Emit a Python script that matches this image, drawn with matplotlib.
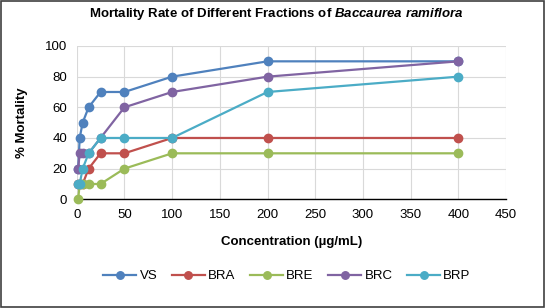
import matplotlib.pyplot as plt

plt.rcParams['font.family'] = ['Liberation Sans', 'DejaVu Sans']
plt.rcParams['mathtext.fontset'] = 'custom'
plt.rcParams['mathtext.it'] = 'Liberation Sans:italic:bold'
plt.rcParams['mathtext.rm'] = 'Liberation Sans:bold'

# concentrations (ug/mL)
conc = [1.5625, 3.125, 6.25, 12.5, 25, 50, 100, 200, 400]

# % mortality per fraction
vs = [20, 40, 50, 60, 70, 70, 80, 90, 90]
bra = [10, 10, 10, 20, 30, 30, 40, 40, 40]
bre = [0, 10, 10, 10, 10, 20, 30, 30, 30]
brc = [20, 30, 30, 30, 40, 60, 70, 80, 90]
brp = [10, 10, 20, 30, 40, 40, 40, 70, 80]

series = [('VS', vs, '#4F81BD'), ('BRA', bra, '#C0504D'), ('BRE', bre, '#9BBB59'),
          ('BRC', brc, '#8064A2'), ('BRP', brp, '#4BACC6')]

fig = plt.figure(figsize=(5.45, 3.08), dpi=100)
ax = fig.add_axes([76.7 / 545, 1 - 199.3 / 308, (506 - 76.7) / 545, (199.3 - 46) / 308])

for name, vals, col in series:
    ax.plot(conc, vals, '-o', color=col, lw=1.6, ms=6, label=name, clip_on=False, zorder=3)

ax.set_xlim(0, 450)
ax.set_ylim(0, 100)
ax.set_xticks(range(0, 451, 50))
ax.set_yticks(range(0, 101, 20))
ax.grid(True, color='#D9D9D9', lw=0.8)
ax.set_axisbelow(True)
for s in ['top', 'right', 'left']:
    ax.spines[s].set_visible(False)
ax.spines['bottom'].set_color('black')
ax.spines['bottom'].set_linewidth(1)
ax.tick_params(length=0, labelsize=9.5, pad=7)

fig.text(276 / 545, 1 - 14 / 308, 'Mortality Rate of Different Fractions of $\\mathit{Baccaurea\\ ramiflora}$',
         ha='center', va='center', fontsize=9.5, fontweight='bold')
ax.set_xlabel('Concentration (µg/mL)', fontsize=9.5, fontweight='bold', labelpad=11)
ax.set_ylabel('% Mortality', fontsize=9.5, fontweight='bold', labelpad=12)

fig.legend(loc='center', bbox_to_anchor=(287 / 545, 1 - 276 / 308), ncol=5, frameon=False,
           fontsize=9.5, handlelength=2.5, columnspacing=1.1, handletextpad=0.25, markerscale=0.9)

fig.patches.append(plt.Rectangle((0.001, 0.002), 0.997, 0.996, transform=fig.transFigure,
                                 fill=False, edgecolor='#404040', lw=1.2))

fig.savefig('out.png', dpi=100)
